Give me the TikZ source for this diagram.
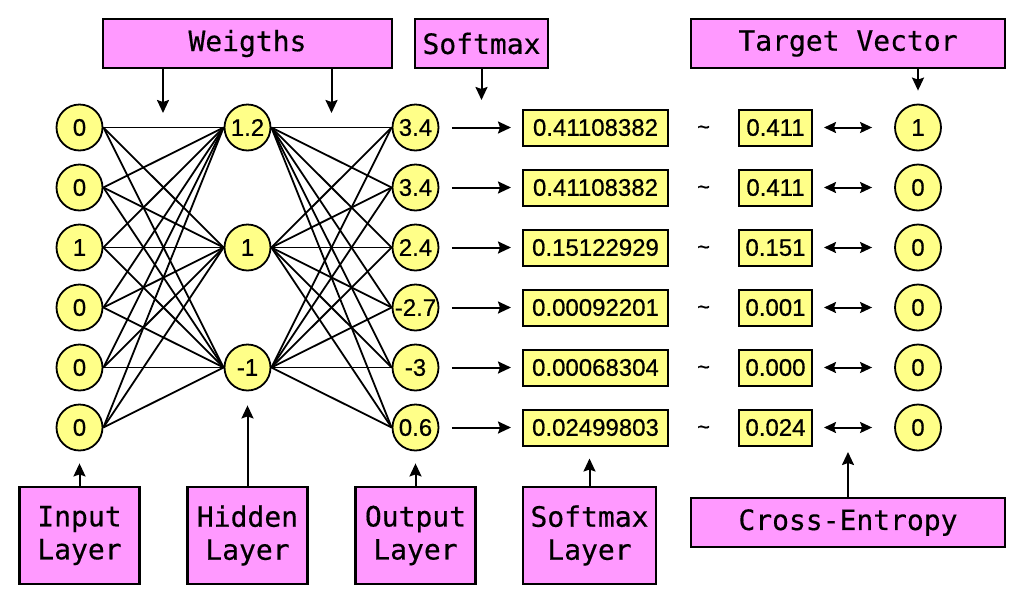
\documentclass[tikz,border=0pt]{standalone}
\usepackage{fontspec}
\setmainfont{Liberation Sans}
\newfontfamily\numfont{Liberation Sans}[FakeBold=0.6]
\newfontfamily\labelfont{DejaVu Sans Mono}[FakeBold=0.4]
\usetikzlibrary{arrows.meta,backgrounds}
\definecolor{pinkfill}{HTML}{FF99FF}
\definecolor{yellowfill}{HTML}{FFFF88}
\tikzset{
  neuron/.style={circle, draw, fill=yellowfill, line width=1.8pt, minimum size=46pt, inner sep=0pt, font=\numfont\fontsize{24}{28}\selectfont},
  valbox/.style={draw, fill=yellowfill, line width=2pt, minimum height=36pt, inner sep=0pt, font=\numfont\fontsize{24}{28}\selectfont},
  labelbox/.style={draw, fill=pinkfill, line width=2.4pt, inner sep=0pt, font=\labelfont\fontsize{28}{33}\selectfont, align=center},
  conn/.style={line width=1.8pt},
  arr/.style={line width=2pt, -{Stealth[length=13pt, width=12pt, inset=2pt]}},
  darr/.style={line width=2pt, {Stealth[length=12pt, width=11pt, inset=2pt]}-{Stealth[length=12pt, width=11pt, inset=2pt]}},
  tilde/.style={font=\numfont\fontsize{22}{24}\selectfont, inner sep=0pt}
}
\begin{document}
\begin{tikzpicture}[x=1pt,y=-1pt]
\useasboundingbox (0,0) rectangle (1023,603);

% top label boxes
\node[labelbox, minimum width=289pt, minimum height=49pt] (wt) at (247.5,43.5) {Weigths};
\node[labelbox, minimum width=133pt, minimum height=49pt] (sm) at (481.5,43.5) {Softmax};
\node[labelbox, minimum width=314pt, minimum height=49pt] (tv) at (848,43.5) {Target Vector};

% bottom label boxes
\node[labelbox, minimum width=120pt, minimum height=97pt] (il) at (79.5,535.5) {Input\\Layer};
\node[labelbox, minimum width=120pt, minimum height=97pt] (hl) at (247.5,535.5) {Hidden\\Layer};
\node[labelbox, minimum width=120pt, minimum height=97pt] (ol) at (415.5,535.5) {Output\\Layer};
\node[labelbox, minimum width=133pt, minimum height=97pt] (sl) at (589.5,535.5) {Softmax\\Layer};
\node[labelbox, minimum width=314pt, minimum height=49pt] (ce) at (848,522.5) {Cross-Entropy};

% input layer
\foreach \v [count=\i] in {0,0,1,0,0,0}
  \node[neuron] (i\i) at (79.5,{127.5+60*(\i-1)}) {\v};
% hidden layer
\node[neuron] (h1) at (247.5,127.5) {1.2};
\node[neuron] (h2) at (247.5,247.5) {1};
\node[neuron] (h3) at (247.5,367.5) {-1};
% output layer
\foreach \v [count=\i] in {3.4,3.4,2.4,-2.7,-3,0.6}
  \node[neuron] (o\i) at (415.5,{127.5+60*(\i-1)}) {\v};
% softmax values
\foreach \v [count=\i] in {0.41108382,0.41108382,0.15122929,0.00092201,0.00068304,0.02499803}
  \node[valbox, minimum width=145pt] (s\i) at (595.5,{127.5+60*(\i-1)}) {\v};
% rounded values
\foreach \v [count=\i] in {0.411,0.411,0.151,0.001,0.000,0.024}
  \node[valbox, minimum width=73pt] (b\i) at (775.5,{127.5+60*(\i-1)}) {\v};
% tildes
\foreach \i in {1,...,6}
  \node[tilde] (tl\i) at (703.5,{130+60*(\i-1)}) {\char`\~};
% target vector
\foreach \v [count=\i] in {1,0,0,0,0,0}
  \node[neuron] (t\i) at (918,{127.5+60*(\i-1)}) {\v};

% connections
\begin{scope}[on background layer]
\foreach \i in {1,...,6}
  \foreach \j in {1,2,3} {
    \draw[conn] (i\i.east) -- (h\j.west);
    \draw[conn] (h\j.east) -- (o\i.west);
  }
\end{scope}

% row arrows
\foreach \i in {1,...,6} {
  \draw[arr, shorten <=12.5pt, shorten >=11pt] (o\i) -- (s\i);
  \draw[darr, shorten <=11pt, shorten >=22pt] (b\i) -- (t\i);
}

% label arrows
\coordinate (wa) at (163,113);
\coordinate (wb) at (331.5,113);
\coordinate (sa) at (481.5,100);
\coordinate (ca) at (848,452);
\draw[arr] (wt.south -| wa) -- (wa);
\draw[arr] (wt.south -| wb) -- (wb);
\draw[arr] (sm.south) -- (sa);
\draw[arr, shorten >=13pt] (tv.south -| t1) -- (t1.north);
\draw[arr, shorten >=12pt] (il.north) -- (i6.south);
\draw[arr, shorten >=14pt] (hl.north) -- (h3.south);
\draw[arr, shorten >=12pt] (ol.north) -- (o6.south);
\draw[arr, shorten >=12pt] (sl.north) -- (sl.north |- s6.south);
\draw[arr] (ce.north) -- (ca);
\end{tikzpicture}
\end{document}
